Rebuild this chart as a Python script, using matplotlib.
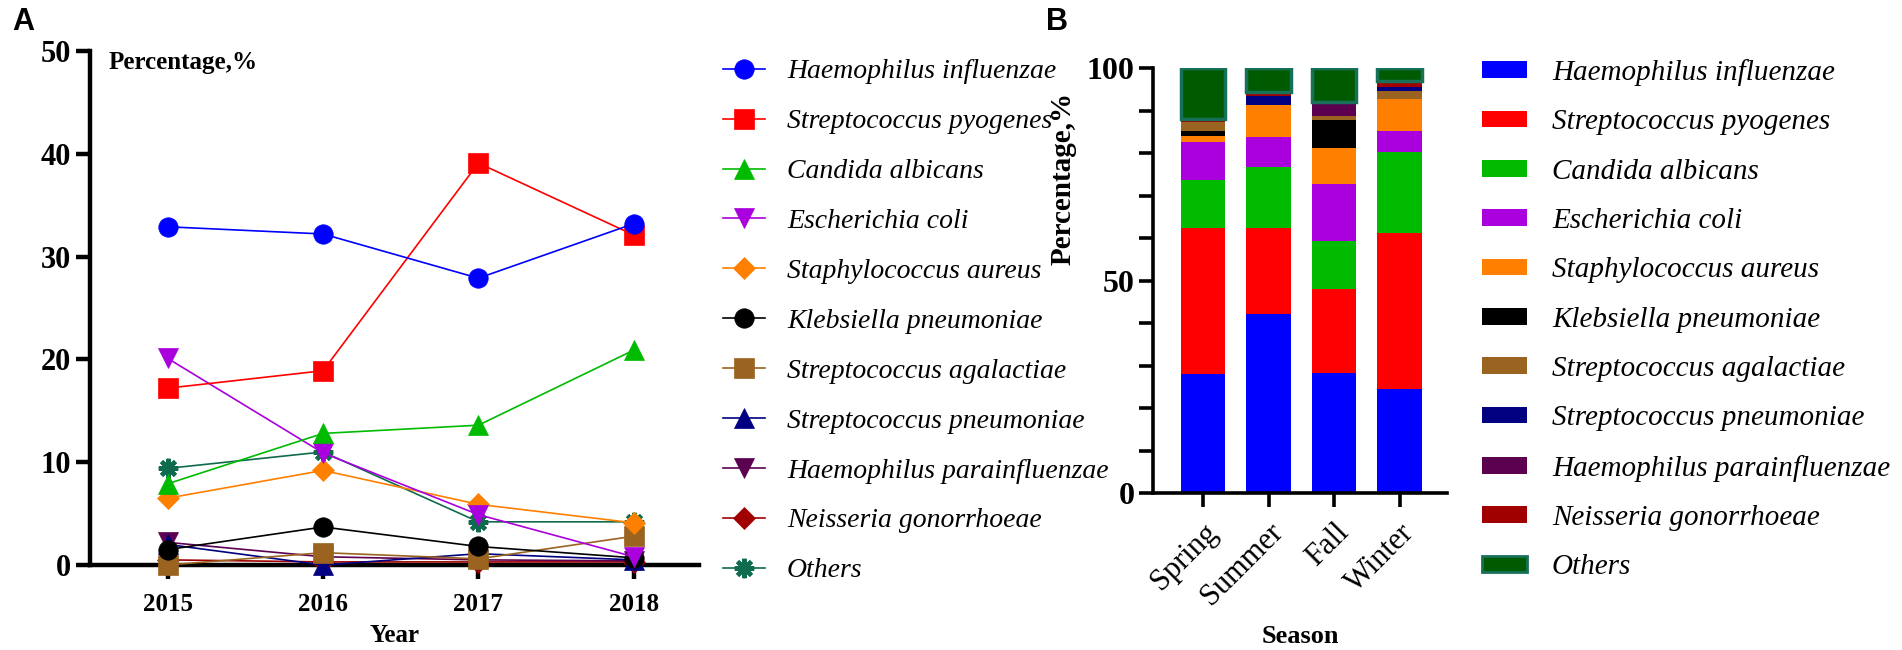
import matplotlib
matplotlib.use('Agg')
from matplotlib import pyplot as plt
from matplotlib.lines import Line2D
from matplotlib.patches import Patch
import numpy as np

plt.rcParams['font.family'] = ['Liberation Serif', 'DejaVu Serif']

years = [2015, 2016, 2017, 2018]
seasons = ['Spring', 'Summer', 'Fall', 'Winter']

species = ['Haemophilus influenzae', 'Streptococcus pyogenes', 'Candida albicans',
           'Escherichia coli', 'Staphylococcus aureus', 'Klebsiella pneumoniae',
           'Streptococcus agalactiae', 'Streptococcus pneumoniae',
           'Haemophilus parainfluenzae', 'Neisseria gonorrhoeae', 'Others']

colors = ['#0000ff', '#ff0000', '#00bb00', '#aa00dd', '#ff8000', '#000000',
          '#9a6420', '#000080', '#5c0050', '#a00000', '#005a00']
markers = ['o', 's', '^', 'v', 'D', 'o', 's', '^', 'v', 'D', (8, 2, 0)]

# panel A: percentage by year
h_influenzae = [32.9, 32.2, 27.9, 33.2]
s_pyogenes = [17.2, 18.9, 39.1, 32.1]
c_albicans = [7.9, 12.8, 13.6, 20.9]
e_coli = [20.1, 10.9, 4.9, 0.8]
s_aureus = [6.5, 9.2, 5.9, 4.1]
k_pneumoniae = [1.5, 3.7, 1.8, 0.7]
s_agalactiae = [0.0, 1.2, 0.6, 2.8]
s_pneumoniae = [2.0, 0.0, 1.1, 0.5]
h_parainfluenzae = [2.2, 0.8, 0.5, 0.4]
n_gonorrhoeae = [0.5, 0.3, 0.3, 0.3]
others = [9.4, 11.0, 4.2, 4.2]

# panel B: percentage by season (same species order)
spring = [28.0, 34.3, 11.3, 9.1, 1.3, 1.1, 2.2, 0.0, 0.0, 0.6, 12.1]
summer = [42.1, 20.2, 14.4, 7.0, 7.5, 0.0, 0.0, 2.1, 0.0, 1.0, 5.7]
fall = [28.3, 19.7, 11.4, 13.2, 8.5, 6.7, 1.0, 0.0, 3.3, 0.0, 7.9]
winter = [24.4, 36.8, 19.0, 4.9, 7.7, 0.0, 1.7, 1.0, 0.0, 1.4, 3.1]

W, H = 1902, 650
fig = plt.figure(figsize=(W / 100, H / 100), dpi=100)

def box(l, r, t, b):
    return [l / W, 1 - b / H, (r - l) / W, (b - t) / H]

# ---------- panel A ----------
ax1 = fig.add_axes(box(90, 699, 51, 565))
year_data = [h_influenzae, s_pyogenes, c_albicans, e_coli, s_aureus, k_pneumoniae,
             s_agalactiae, s_pneumoniae, h_parainfluenzae, n_gonorrhoeae, others]
handles_a = []
for i, vals in enumerate(year_data):
    c = colors[i]
    ms = 14
    if markers[i] == 'D':
        ms = 11
    mew = 0.5
    if i == 10:
        c = '#0e6b4e'
        ms = 14
        mew = 3
    ax1.plot(years, vals, color=c, lw=1.2, marker=markers[i], ms=ms,
             mfc=c, mec=c, mew=mew, clip_on=False, zorder=20 - i)
    handles_a.append(Line2D([], [], color=c, lw=1.2, marker=markers[i], ms=ms,
                            mfc=c, mec=c, mew=mew))

ax1.set_xlim(2014.5, 2018.42)
ax1.set_ylim(0, 50)
ax1.set_xticks(years)
ax1.set_yticks([0, 10, 20, 30, 40, 50])
ax1.spines['top'].set_visible(False)
ax1.spines['right'].set_visible(False)
ax1.spines['left'].set_linewidth(3.2)
ax1.spines['bottom'].set_linewidth(3.2)
ax1.tick_params(width=3.2, length=10, labelsize=22)
ax1.tick_params(axis='x', labelsize=18, pad=10)
for lab in ax1.get_xticklabels() + ax1.get_yticklabels():
    lab.set_fontweight('bold')
ax1.set_xlabel('Year', fontsize=18, fontweight='bold', labelpad=6)
ax1.text(0.03, 1.0, 'Percentage,%', transform=ax1.transAxes, fontsize=18,
         fontweight='bold', va='top', ha='left')

fig.legend(handles_a, species, loc='upper left', bbox_to_anchor=(723 / W, 1 - 59 / H),
           frameon=False, prop={'style': 'italic', 'size': 20}, labelspacing=0.88,
           borderpad=0, borderaxespad=0, handlelength=1.5, handletextpad=0.8)

fig.text(23 / W, 1 - 22 / H, 'A', fontsize=22, fontweight='bold',
         family='Liberation Sans', ha='center', va='center')

# ---------- panel B ----------
ax2 = fig.add_axes(box(1153, 1447, 68, 493))
season_data = np.array([spring, summer, fall, winter])
x = np.arange(len(seasons))
bottom = np.zeros(len(seasons))
for i in range(len(species)):
    vals = season_data[:, i]
    if i == 10:
        ax2.bar(x, vals, 0.68, bottom=bottom, color=colors[i], edgecolor='#17705a', lw=2.5)
    else:
        ax2.bar(x, vals, 0.68, bottom=bottom, color=colors[i], lw=0)
    bottom += vals

ax2.set_xlim(-0.76, 3.72)
ax2.set_ylim(0, 100)
ax2.set_xticks(x)
ax2.set_xticklabels(seasons, rotation=45, ha='right', rotation_mode='anchor', fontsize=22)
ax2.set_yticks([0, 50, 100])
ax2.set_yticks(np.arange(0, 101, 10), minor=True)
ax2.spines['top'].set_visible(False)
ax2.spines['right'].set_visible(False)
ax2.spines['left'].set_linewidth(2.6)
ax2.spines['bottom'].set_linewidth(2.6)
ax2.tick_params(which='both', width=2.6, length=10)
ax2.tick_params(axis='y', labelsize=23)
ax2.tick_params(axis='x', pad=8)
for lab in ax2.get_yticklabels():
    lab.set_fontweight('bold')
ax2.set_ylabel('Percentage,%', fontsize=21, fontweight='bold')
ax2.yaxis.set_label_coords(-0.26, 0.74)
ax2.set_xlabel('Season', fontsize=19, fontweight='bold', labelpad=10)

handles_b = []
for i in range(len(species)):
    if i == 10:
        handles_b.append(Patch(facecolor=colors[i], edgecolor='#17705a', lw=2))
    else:
        handles_b.append(Patch(facecolor=colors[i], edgecolor='none'))
fig.legend(handles_b, species, loc='upper left', bbox_to_anchor=(1482 / W, 1 - 59 / H),
           frameon=False, prop={'style': 'italic', 'size': 21}, labelspacing=0.8,
           borderpad=0, borderaxespad=0, handlelength=1.55, handleheight=0.5,
           handletextpad=0.85)

fig.text(1057 / W, 1 - 22 / H, 'B', fontsize=22, fontweight='bold',
         family='Liberation Sans', ha='center', va='center')

fig.savefig('out.png', dpi=100)
